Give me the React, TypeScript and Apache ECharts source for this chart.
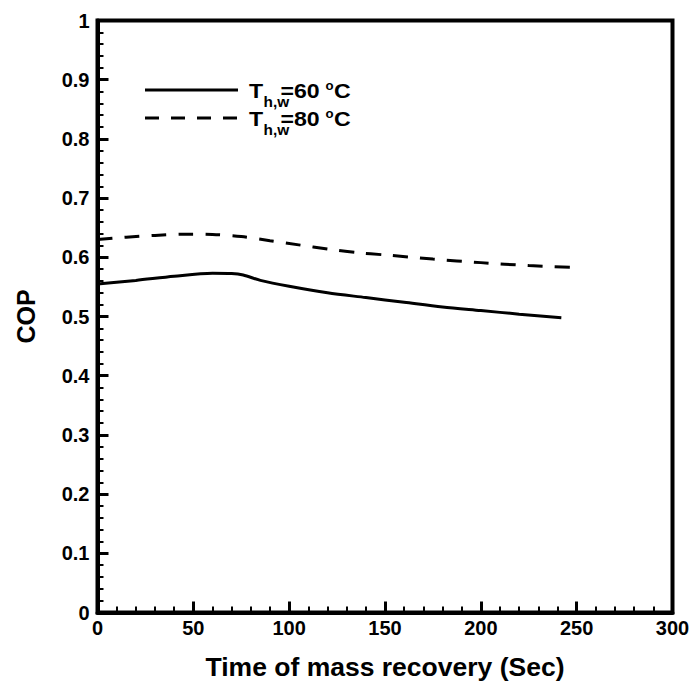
import React, { useEffect, useRef } from "react";
import * as echarts from "echarts";

const xTicks = [0, 50, 100, 150, 200, 250, 300];
const yTicks = [0, 0.1, 0.2, 0.3, 0.4, 0.5, 0.6, 0.7, 0.8, 0.9, 1];

const time60 = [0, 20, 40, 60, 70, 76, 85, 100, 120, 140, 160, 180, 200, 220, 242];
const cop60 = [0.555, 0.561, 0.568, 0.573, 0.5725, 0.570, 0.561, 0.551, 0.540, 0.532, 0.524, 0.516, 0.510, 0.504, 0.498];

const time80 = [0, 15, 30, 45, 60, 75, 90, 105, 120, 135, 150, 175, 200, 225, 248];
const cop80 = [0.630, 0.634, 0.637, 0.639, 0.6385, 0.635, 0.628, 0.621, 0.614, 0.608, 0.604, 0.597, 0.591, 0.586, 0.583];

const legendNames = ["60", "80"];

const FONT = "'Liberation Sans', Arial, sans-serif";

export default function App() {
  const ref = useRef<HTMLDivElement>(null);
  useEffect(() => {
    if (!ref.current) return;
    const chart = echarts.init(ref.current, null, { renderer: "svg" });
    const pair = (xs: number[], ys: number[]) => xs.map((x, i) => [x, ys[i]]);

    const sx = 1.1;
    const legendGraphic: any[] = [];
    legendNames.forEach((t, i) => {
      const cy = 90 + i * 28;
      legendGraphic.push({
        type: "line",
        shape: { x1: 145, y1: cy, x2: 238, y2: cy },
        style: { stroke: "#000", lineWidth: 3, lineDash: i === 0 ? null : [14, 12] },
      });
      legendGraphic.push({
        type: "text", x: 249, y: cy + 0.5, scaleX: sx,
        style: { text: "T", font: `bold 21px ${FONT}`, fill: "#000", verticalAlign: "middle" },
      });
      legendGraphic.push({
        type: "text", x: 263.5, y: cy + 12, scaleX: sx,
        style: { text: "h,w", font: `bold 14px ${FONT}`, fill: "#000", verticalAlign: "middle" },
      });
      legendGraphic.push({
        type: "text", x: 280.5, y: cy + 0.5, scaleX: sx,
        style: { text: "=" + t, font: `bold 21px ${FONT}`, fill: "#000", verticalAlign: "middle" },
      });
      legendGraphic.push({
        type: "text", x: 325.5, y: cy - 4, scaleX: sx,
        style: { text: "o", font: `bold 12px ${FONT}`, fill: "#000", verticalAlign: "middle" },
      });
      legendGraphic.push({
        type: "text", x: 334, y: cy + 0.5, scaleX: sx,
        style: { text: "C", font: `bold 21px ${FONT}`, fill: "#000", verticalAlign: "middle" },
      });
    });

    chart.setOption({
      animation: false,
      backgroundColor: "#fff",
      grid: {
        left: 97.5, right: 21.5, top: 20.5, bottom: 76.5,
        show: true, borderColor: "#000", borderWidth: 4, backgroundColor: "transparent",
      },
      xAxis: {
        type: "value", min: xTicks[0], max: xTicks[xTicks.length - 1], interval: 50,
        name: "Time of mass recovery (Sec)", nameLocation: "middle", nameGap: 41,
        nameTextStyle: { fontFamily: FONT, fontWeight: "bold", fontSize: 26.5, color: "#000" },
        axisLine: { show: true, lineStyle: { color: "#000", width: 4 } },
        axisTick: { show: true, inside: true, length: 11, lineStyle: { color: "#000", width: 3 } },
        minorTick: { show: true, splitNumber: 5, length: 6, lineStyle: { color: "#000", width: 2 } },
        splitLine: { show: false },
        axisLabel: { margin: 5, fontFamily: FONT, fontWeight: "bold", fontSize: 20, color: "#000" },
      },
      yAxis: {
        type: "value", min: yTicks[0], max: yTicks[yTicks.length - 1], interval: 0.1,
        name: "COP", nameLocation: "middle", nameGap: 59, nameRotate: 90,
        nameTextStyle: { fontFamily: FONT, fontWeight: "bold", fontSize: 25, color: "#000" },
        axisLine: { show: true, lineStyle: { color: "#000", width: 4 } },
        axisTick: { show: true, inside: true, length: 11, lineStyle: { color: "#000", width: 3 } },
        minorTick: { show: true, splitNumber: 5, length: 6, lineStyle: { color: "#000", width: 2 } },
        splitLine: { show: false },
        axisLabel: {
          margin: 8, fontFamily: FONT, fontWeight: "bold", fontSize: 20, color: "#000",
          formatter: (v: number) => String(+v.toFixed(1)),
        },
      },
      series: [
        {
          type: "line", name: "T_h,w=60 °C", data: pair(time60, cop60), smooth: 0.3,
          showSymbol: false, symbol: "none",
          lineStyle: { color: "#000", width: 3, type: "solid" },
        },
        {
          type: "line", name: "T_h,w=80 °C", data: pair(time80, cop80), smooth: 0.3,
          showSymbol: false, symbol: "none",
          lineStyle: { color: "#000", width: 3, type: [15, 12] },
        },
      ],
      graphic: legendGraphic,
    });
    return () => chart.dispose();
  }, []);
  return <div ref={ref} style={{ width: 694, height: 689, position: "absolute", left: 0, top: 0 }} />;
}
